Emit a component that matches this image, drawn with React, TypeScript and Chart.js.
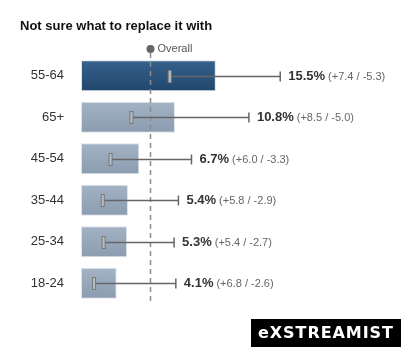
import React, { useEffect, useRef } from "react";
import { Chart, registerables } from "chart.js";

Chart.register(...registerables);

const categories = ["55-64", "65+", "45-54", "35-44", "25-34", "18-24"];
const values = [15.5, 10.8, 6.7, 5.4, 5.3, 4.1];
const errPlus = [7.4, 8.5, 6.0, 5.8, 5.4, 6.8];
const errMinus = [5.3, 5.0, 3.3, 2.9, 2.7, 2.6];
const highlighted = [true, false, false, false, false, false];
const overallValue = 7.9;
const titleText = "Not sure what to replace it with";
const overallLabel = "Overall";
const brandText = "eXSTREAMIST";

const FONT = '"Liberation Sans", Arial, Helvetica, sans-serif';

export default function App() {
  const ref = useRef<HTMLCanvasElement | null>(null);

  useEffect(() => {
    const canvas = ref.current;
    if (!canvas) return;

    const overlay = {
      id: "overlay",
      afterDatasetsDraw(chart: any) {
        const ctx = chart.ctx as CanvasRenderingContext2D;
        const xs = chart.scales.x;
        const ys = chart.scales.y;
        const area = chart.chartArea;

        // overall dashed line
        const ox = Math.round(xs.getPixelForValue(overallValue)) + 0.5;
        ctx.save();
        ctx.strokeStyle = "#8a8a8a";
        ctx.lineWidth = 1.5;
        ctx.setLineDash([5, 4]);
        ctx.beginPath();
        ctx.moveTo(ox, 53);
        ctx.lineTo(ox, area.bottom - 1);
        ctx.stroke();
        ctx.setLineDash([]);
        ctx.fillStyle = "#666";
        ctx.beginPath();
        ctx.arc(ox, 49, 4, 0, Math.PI * 2);
        ctx.fill();
        ctx.fillStyle = "#555";
        ctx.font = `11px ${FONT}`;
        ctx.textBaseline = "middle";
        ctx.textAlign = "left";
        ctx.fillText(overallLabel, ox + 7, 49);

        // error bars and labels
        for (let i = 0; i < values.length; i++) {
          const cy = Math.round(ys.getPixelForValue(i)) + 0.5;
          const lo = xs.getPixelForValue(values[i] - errMinus[i]);
          const hi = xs.getPixelForValue(values[i] + errPlus[i]);
          ctx.strokeStyle = "#666";
          ctx.lineWidth = 1.5;
          ctx.beginPath();
          ctx.moveTo(lo, cy);
          ctx.lineTo(hi, cy);
          ctx.stroke();
          ctx.beginPath();
          ctx.moveTo(hi, cy - 5);
          ctx.lineTo(hi, cy + 5);
          ctx.stroke();
          ctx.fillStyle = "#b9c0c8";
          ctx.strokeStyle = "#777";
          ctx.lineWidth = 1;
          ctx.fillRect(lo - 1.5, cy - 6, 3, 12);
          ctx.strokeRect(lo - 1.5, cy - 6, 3, 12);

          const tx = hi + 8;
          ctx.font = `bold 13px ${FONT}`;
          ctx.fillStyle = "#333";
          ctx.textBaseline = "middle";
          const main = values[i].toFixed(1) + "%";
          ctx.fillText(main, tx, cy);
          const w = ctx.measureText(main).width;
          ctx.font = `11px ${FONT}`;
          ctx.fillStyle = "#666";
          ctx.fillText(`(+${errPlus[i].toFixed(1)} / -${errMinus[i].toFixed(1)})`, tx + w + 3, cy + 0.5);
        }

        // title
        ctx.font = `bold 13px ${FONT}`;
        ctx.fillStyle = "#111";
        ctx.textBaseline = "alphabetic";
        ctx.fillText(titleText, 20, 30);

        // brand box
        ctx.fillStyle = "#000";
        ctx.fillRect(251, 319, 150, 28);
        ctx.fillStyle = "#fff";
        ctx.font = `bold 16px "DejaVu Sans", ${FONT}`;
        ctx.textBaseline = "middle";
        const target = 135;
        const raw = ctx.measureText(brandText).width;
        const spacing = Math.max(0, (target - raw) / (brandText.length - 1));
        let bx = 258;
        for (const ch of brandText) {
          ctx.fillText(ch, bx, 333.5);
          bx += ctx.measureText(ch).width + spacing;
        }
        ctx.restore();
      },
    };

    const barColor = (c: any) => {
      const chart = c.chart;
      const i = c.dataIndex;
      const dark = highlighted[i];
      const top = dark ? "#36628c" : "#a3b3c5";
      const bottom = dark ? "#22466d" : "#8b9cb0";
      const ys = chart.scales && chart.scales.y;
      if (!chart.chartArea || !ys) return bottom;
      const cy = ys.getPixelForValue(i);
      const h = (chart.chartArea.height / categories.length) * 0.75;
      const g = chart.ctx.createLinearGradient(0, cy - h / 2, 0, cy + h / 2);
      g.addColorStop(0, top);
      g.addColorStop(1, bottom);
      return g;
    };

    const chart = new Chart(canvas, {
      type: "bar",
      data: {
        labels: categories,
        datasets: [
          {
            data: values,
            backgroundColor: barColor,
            borderColor: "#dde3ea",
            borderWidth: 1,
            borderSkipped: false,
            barPercentage: 0.75,
            categoryPercentage: 1,
          },
        ],
      },
      options: {
        indexAxis: "y",
        responsive: false,
        animation: false,
        devicePixelRatio: 1,
        layout: { padding: { top: 55, bottom: 52, left: 0, right: 69 } },
        plugins: {
          legend: { display: false },
          title: { display: false },
          tooltip: { enabled: false },
        },
        scales: {
          x: { display: false, min: 0, max: 30 },
          y: {
            grid: { display: false, drawTicks: false },
            border: { display: false },
            ticks: {
              padding: 17,
              color: "#333",
              font: { family: FONT, size: 13 },
            },
            afterFit: (scale: any) => {
              scale.width = 81;
            },
          },
        },
      },
      plugins: [overlay],
    } as any);

    return () => chart.destroy();
  }, []);

  return (
    <div style={{ position: "fixed", left: 0, top: 0, width: 411, height: 356, background: "#fff" }}>
      <canvas ref={ref} width={411} height={356} />
    </div>
  );
}
